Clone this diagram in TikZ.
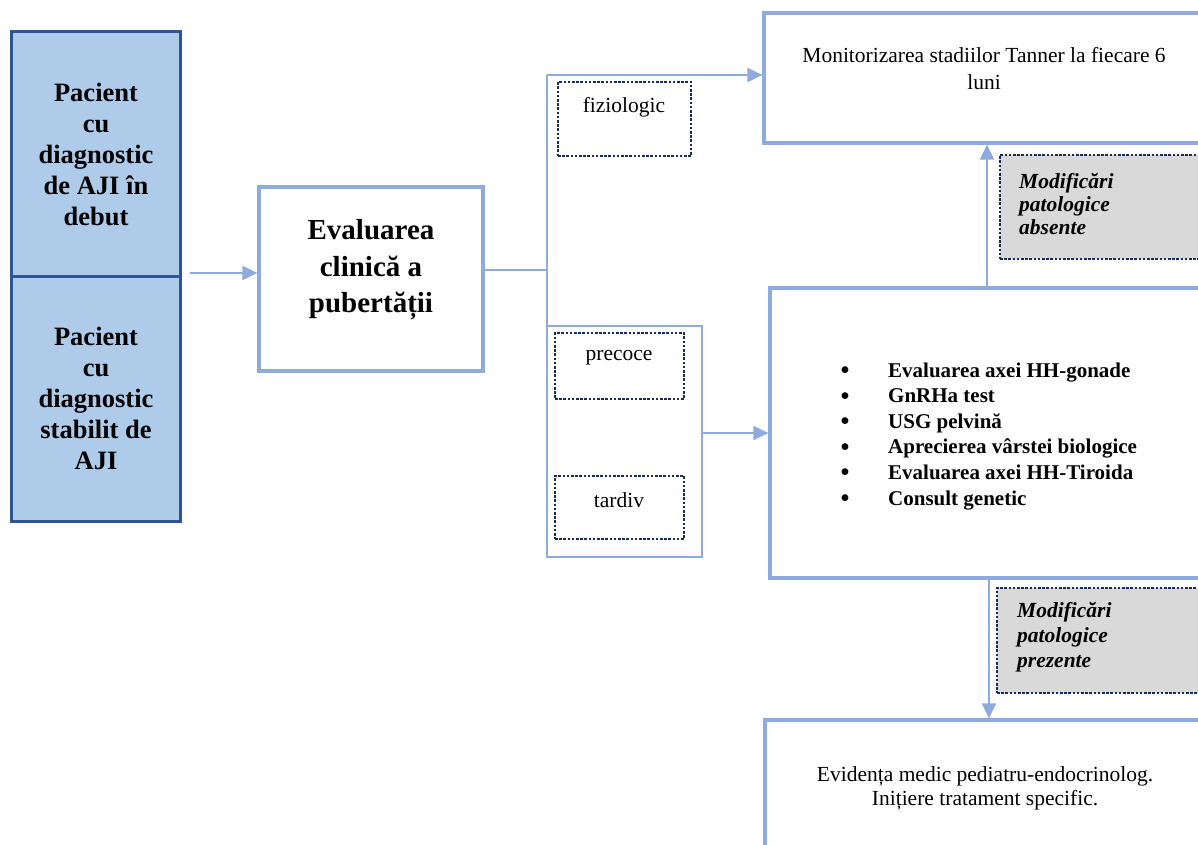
\documentclass[tikz,border=0pt]{standalone}
\usepackage{fontspec}
\setmainfont{Liberation Serif}
\usetikzlibrary{arrows.meta}
\definecolor{lineblue}{RGB}{143,170,220}
\definecolor{boxfill}{RGB}{174,203,234}
\definecolor{boxborder}{RGB}{47,84,150}
\definecolor{dotnavy}{RGB}{25,45,90}
\definecolor{grayfill}{RGB}{217,217,217}
\begin{document}
\begin{tikzpicture}[x=1pt,y=-1pt,
  patbox/.style={draw=boxborder, fill=boxfill, line width=3pt, inner sep=0pt, align=center, font=\bfseries\fontsize{26.5}{31}\selectfont},
  mainbox/.style={draw=lineblue, line width=3.2pt, inner sep=0pt},
  dotbox/.style={draw=dotnavy, line width=2.7pt, dash pattern=on 2.6pt off 1.6pt, inner sep=0pt},
  graybox/.style={dotbox, fill=grayfill},
  conn/.style={draw=lineblue, line width=2pt},
  arr/.style={conn, -{Triangle[length=15pt,width=14pt]}},
  txt/.style={inner sep=0pt, align=center, font=\fontsize{21.5}{27}\selectfont},
  graytxt/.style={inner sep=0pt, anchor=west, align=left, font=\bfseries\itshape\fontsize{21.5}{23}\selectfont},
  bullettxt/.style={inner sep=0pt, anchor=base west, font=\bfseries\fontsize{21}{25.6}\selectfont}
]
\useasboundingbox (0,0) rectangle (1198,845);
\clip (0,0) rectangle (1198,845);

% left patient boxes
\node[patbox, minimum width=169pt, minimum height=244pt] (pac1) at (96,154)
  {Pacient\\cu\\diagnostic\\de AJI în\\debut};
\node[patbox, minimum width=169pt, minimum height=245pt] (pac2) at (96,398.5)
  {Pacient\\cu\\diagnostic\\stabilit de\\AJI};

% evaluation box
\node[mainbox, minimum width=224pt, minimum height=184pt] (eval) at (371,279) {};
\node[inner sep=0pt, align=center, font=\bfseries\fontsize{29}{36.5}\selectfont] (evaltxt) at (371,270)
  {Evaluarea\\clinică a\\pubertății};

% right-hand boxes
\node[mainbox, minimum width=441pt, minimum height=130pt] (top) at (984.5,78) {};
\node[txt] (toptxt) at (984,68.5) {Monitorizarea stadiilor Tanner la fiecare 6\\luni};

\node[mainbox, minimum width=435pt, minimum height=290pt] (mid) at (987.5,433) {};
\foreach \t [count=\i] in {Evaluarea axei HH-gonade, GnRHa test, USG pelvină, Aprecierea vârstei biologice, Evaluarea axei HH-Tiroida, Consult genetic}
  \node[bullettxt] (bl\i) at (840,{377+25.6*(\i-1)}) {\makebox[48pt][l]{\smash{\raisebox{-2.5pt}{\scalebox{1.35}{\mdseries •}}}}\t};

\node[mainbox, minimum width=440pt, minimum height=150pt] (bot) at (985,795) {};
\node[txt, font=\fontsize{21.5}{24}\selectfont] (bottxt) at (985,788.5) {Evidența medic pediatru-endocrinolog.\\Inițiere tratament specific.};

\node[graybox, minimum width=212pt, minimum height=104pt] (gray1) at (1106,207) {};
\node[graytxt] (gray1txt) at (1019,204.5) {Modificări\\patologice\\absente};
\node[graybox, minimum width=215pt, minimum height=105pt] (gray2) at (1104.5,640.5) {};
\node[graytxt, font=\bfseries\itshape\fontsize{21.5}{25}\selectfont] (gray2txt) at (1017,637) {Modificări\\patologice\\prezente};

% connectors
\coordinate (a0) at (190,273);
\draw[arr] (a0) -- (eval.west |- a0);

\coordinate (jtop) at (547,75);
\coordinate (jbot) at (547,557);
\coordinate (jmid) at (547,270);
\draw[conn] (eval.east |- jmid) -- (jmid);
\draw[conn] (jtop) -- (jbot);
\draw[arr] (jtop) -- (top.west |- jtop);

\node[draw=lineblue, line width=2pt, inner sep=0pt, minimum width=155pt, minimum height=231pt] (bracket) at (624.5,441.5) {};
\coordinate (jright) at (702,433);
\draw[arr] (jright) -- (mid.west |- jright);

\coordinate (upx) at (987,0);
\draw[arr] (mid.north -| upx) -- (top.south -| upx);
\coordinate (downx) at (989,0);
\draw[arr] (mid.south -| downx) -- (bot.north -| downx);

% dotted category boxes
\node[dotbox, minimum width=133pt, minimum height=74pt] (fiz) at (624.5,119) {};
\node[txt] (fiztxt) at (624,107) {fiziologic};
\node[dotbox, minimum width=129pt, minimum height=66pt] (prec) at (619.5,366) {};
\node[txt] (prectxt) at (619,358) {precoce};
\node[dotbox, minimum width=129pt, minimum height=63pt] (tard) at (619.5,507.5) {};
\node[txt] (tardtxt) at (619,500) {tardiv};
\end{tikzpicture}
\end{document}
